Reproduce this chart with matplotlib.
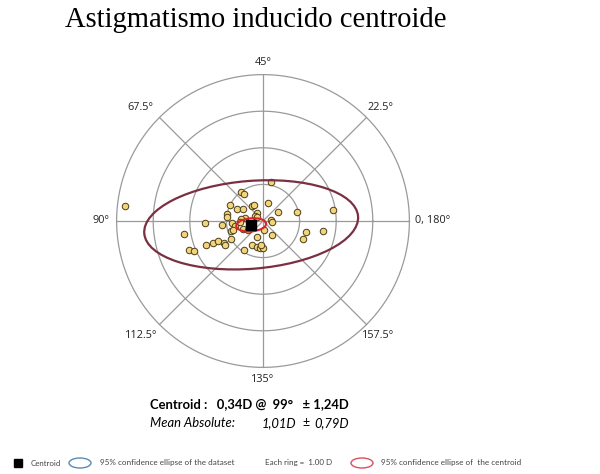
"""
Astigmatismo inducido - grafico de doble angulo con centroide
"""
import numpy as np
import matplotlib.pyplot as plt
from matplotlib.patches import Ellipse

# puntos en coordenadas de doble angulo (dioptrias)
x_pts = [0.23, -0.61, -0.52, -3.77, -0.91, -0.70, -0.56, -0.29, -0.25, 0.14,
         0.42, 0.93, 1.92, -0.98, -0.98, -0.50, -0.17, -0.23, -0.16, -1.59,
         -1.11, -0.86, -0.77, -0.55, -0.40, 0.23, 0.24, -0.88, -2.16, 1.18,
         1.65, 1.09, 0.24, -0.88, -1.57, -1.36, -1.24, -1.07, -1.03, -2.02,
         -1.89, -0.53, -0.29, -0.16, -0.07, 0.00, -0.06, -0.16, 0.04, -0.82,
         -0.61, -0.62]
y_pts = [1.07, 0.79, 0.73, 0.40, 0.43, 0.32, 0.32, 0.41, 0.44, 0.48,
         0.24, 0.24, 0.29, 0.20, 0.11, 0.09, 0.22, 0.15, 0.11, -0.05,
         -0.10, -0.05, -0.15, -0.23, -0.24, 0.02, -0.03, -0.27, -0.36, -0.30,
         -0.26, -0.48, -0.39, -0.48, -0.66, -0.60, -0.55, -0.59, -0.66, -0.80,
         -0.83, -0.80, -0.66, -0.71, -0.73, -0.73, -0.66, -0.45, -0.25, -0.25,
         0.05, -0.02]

# centroide: 0,34 D @ 99 grados
centroid_mag = 0.34
centroid_axis = 99

# elipses de confianza 95% (semiejes en D, inclinacion en grados)
data_ell = (2.93, 1.20, 4.6)
cent_ell = (0.41, 0.18, 5.0)

rings = [1, 2, 3, 4]
axis_labels = ["0, 180°", "22.5°", "45°", "67.5°", "90°", "112.5°", "135°", "157.5°"]

W, H = 600, 474
px = 36.6           # pixeles por dioptria
cx, cy = 263, 221   # centro en pixeles
L = 5.6

fig = plt.figure(figsize=(6, 4.74), dpi=100)
size = 2 * L * px
ax = fig.add_axes([(cx - size / 2) / W, (H - cy - size / 2) / H, size / W, size / H])
ax.set_xlim(-L, L)
ax.set_ylim(-L, L)
ax.set_aspect("equal")
ax.axis("off")

grid_col = "#9a9a9a"
t = np.linspace(0, 2 * np.pi, 400)
for r in rings:
    ax.plot(r * np.cos(t), r * np.sin(t), color=grid_col, lw=0.9, zorder=1)
R = rings[-1]
for k in range(4):
    a = np.deg2rad(45 * k)
    ax.plot([-R * np.cos(a), R * np.cos(a)], [-R * np.sin(a), R * np.sin(a)],
            color=grid_col, lw=0.9, zorder=1)

# posiciones de las etiquetas de eje (en D, respecto al centro)
lab_pos = [(4.15, 0, "left"), (3.2, 3.09, "center"), (0, 4.32, "center"),
           (-3.36, 3.09, "center"), (-4.2, 0, "right"), (-3.33, -3.14, "center"),
           (0, -4.34, "center"), (3.14, -3.14, "center")]
for lab, (x, y, ha) in zip(axis_labels, lab_pos):
    ax.text(x, y, lab, ha=ha, va="center", fontsize=7.8, color="#222222",
            family="Open Sans")

ax.scatter(x_pts, y_pts, s=22, facecolor="#f2d47a", edgecolor="#4a3d1a",
           linewidth=0.7, zorder=3)

c2 = np.deg2rad(2 * centroid_axis)
ccx, ccy = centroid_mag * np.cos(c2), centroid_mag * np.sin(c2)

ax.add_patch(Ellipse((ccx, ccy), 2 * data_ell[0], 2 * data_ell[1], angle=data_ell[2],
                     fill=False, edgecolor="#7a3042", lw=1.6, zorder=4))
ax.add_patch(Ellipse((ccx, ccy), 2 * cent_ell[0], 2 * cent_ell[1], angle=cent_ell[2],
                     fill=False, edgecolor="#e0202a", lw=1.5, zorder=5))
ax.plot([ccx], [ccy], marker="s", color="black", markersize=6.5, zorder=6)

fig.text(65 / W, 1 - 20 / H, "Astigmatismo inducido centroide", ha="left", va="center",
         fontsize=20.6, family="Liberation Serif")

fig.text(150 / W, 1 - 404 / H, "Centroid :   0,34D @  99°   ± 1,24D", ha="left", va="center",
         fontsize=9.4, fontweight="bold", family="Lato")
fig.text(150 / W, 1 - 423 / H, "Mean Absolute:", ha="left", va="center",
         fontsize=9.4, style="italic", family="Lato")
fig.text(262 / W, 1 - 423 / H, "1,01D", ha="left", va="center",
         fontsize=9.4, style="italic", family="Lato")
fig.text(302 / W, 1 - 422 / H, "±", ha="left", va="center", fontsize=9, family="Lato")
fig.text(314 / W, 1 - 423 / H, "0,79D", ha="left", va="center",
         fontsize=9.4, style="italic", family="Lato")

# leyenda inferior
ly = 1 - 463 / H
leg_col = "#444444"
fig.patches.append(plt.Rectangle((14 / W, ly - 4 / H), 8 / W, 8 / H, color="black",
                                 transform=fig.transFigure, figure=fig))
fig.text(31 / W, ly, "Centroid", ha="left", va="center", fontsize=5.7, color=leg_col, family="Lato")
fig.patches.append(Ellipse((80 / W, ly), 22 / W, 10 / H, fill=False, edgecolor="#5a8ab5",
                           lw=1, transform=fig.transFigure, figure=fig))
fig.text(100 / W, ly, "95% confidence ellipse of the dataset", ha="left", va="center",
         fontsize=5.9, color=leg_col, family="Lato")
fig.text(265 / W, ly, "Each ring =  1.00 D", ha="left", va="center",
         fontsize=5.8, color=leg_col, family="Lato")
fig.patches.append(Ellipse((362 / W, ly), 22 / W, 10 / H, fill=False, edgecolor="#d9505c",
                           lw=1, transform=fig.transFigure, figure=fig))
fig.text(381 / W, ly, "95% confidence ellipse of  the centroid", ha="left", va="center",
         fontsize=5.9, color=leg_col, family="Lato")

fig.savefig("out.png", dpi=100)
